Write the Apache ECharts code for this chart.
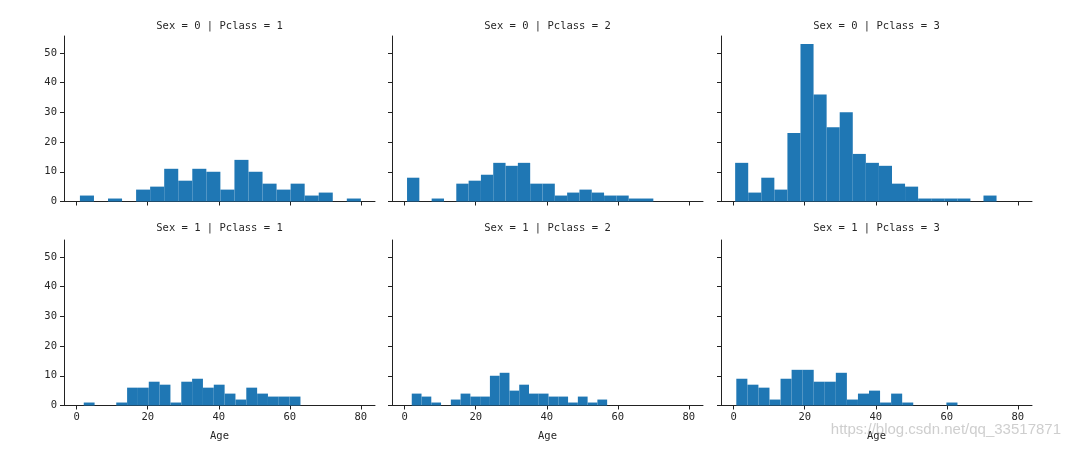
<!DOCTYPE html>
<html>
<head>
<meta charset="utf-8">
<script src="https://cdn.jsdelivr.net/npm/echarts@6/dist/echarts.min.js"></script>
<style>html,body{margin:0;padding:0;background:#fff;}#c{width:1069px;height:453px;}</style>
</head>
<body>
<div id="c"></div>
<script>
// Panel titles (row-major: Sex 0 row, Sex 1 row)
const panelTitles = [
  'Sex = 0 | Pclass = 1', 'Sex = 0 | Pclass = 2', 'Sex = 0 | Pclass = 3',
  'Sex = 1 | Pclass = 1', 'Sex = 1 | Pclass = 2', 'Sex = 1 | Pclass = 3'
];
// Age range (min, max) of each facet; 20 equal-width bins span it
const ageRanges = [
  [0.92, 80], [0.67, 70], [0.42, 74],
  [2, 63], [2, 57], [0.75, 63]
];
// Histogram counts per facet (20 bins)
const countsS0P1 = [2,0,1,0,4,5,11,7,11,10,4,14,10,6,4,6,2,3,0,1];
const countsS0P2 = [8,0,1,0,6,7,9,13,12,13,6,6,2,3,4,3,2,2,1,1];
const countsS0P3 = [13,3,8,4,23,53,36,25,30,16,13,12,6,5,1,1,1,1,0,2];
const countsS1P1 = [1,0,0,1,6,6,8,7,1,8,9,6,7,4,2,6,4,3,3,3];
const countsS1P2 = [4,3,1,0,2,4,3,3,10,11,5,7,4,4,3,3,1,3,1,2];
const countsS1P3 = [9,7,6,2,9,12,12,8,8,11,2,4,5,1,4,1,0,0,0,1];
const allCounts = [countsS0P1, countsS0P2, countsS0P3, countsS1P1, countsS1P2, countsS1P3];
const xTicks = [0, 20, 40, 60, 80];
const yTicks = [0, 10, 20, 30, 40, 50];
const xLabel = 'Age';

const chart = echarts.init(document.getElementById('c'), null, {renderer: 'canvas'});
const colLeft = [64, 392, 721];
const rowTop = [36, 240];
const gw = 311, gh = 165.5;
const txt = '#262626';
const mono = '"DejaVu Sans Mono", monospace';

const grids = [], xAxes = [], yAxes = [], series = [], graphics = [];
for (let i = 0; i < 6; i++) {
  const r = Math.floor(i / 3), c = i % 3;
  grids.push({left: colLeft[c], top: rowTop[r], width: gw, height: gh, containLabel: false});
  xAxes.push({
    type: 'value', gridIndex: i, min: -3.56, max: 83.98,
    splitLine: {show: false},
    axisLine: {show: true, onZero: false, lineStyle: {color: '#222', width: 1}},
    axisTick: {show: true, inside: false, length: 4, lineStyle: {color: '#222'}, customValues: xTicks},
    axisLabel: {show: r === 1, color: txt, fontFamily: mono, fontSize: 10.5, margin: 6, customValues: xTicks},
    name: r === 1 ? xLabel : '', nameLocation: 'middle', nameGap: 25,
    nameTextStyle: {color: txt, fontFamily: mono, fontSize: 10.5}
  });
  yAxes.push({
    type: 'value', gridIndex: i, min: 0, max: 55.65,
    splitLine: {show: false},
    axisLine: {show: true, onZero: false, lineStyle: {color: '#222', width: 1}},
    axisTick: {show: true, inside: false, length: 4, lineStyle: {color: '#222'}, customValues: yTicks},
    axisLabel: {show: c === 0, color: txt, fontFamily: mono, fontSize: 10.5, margin: 7, customValues: yTicks}
  });
  const [lo, hi] = ageRanges[i];
  const w = (hi - lo) / allCounts[i].length;
  const data = allCounts[i].map((v, k) => [lo + k * w, lo + (k + 1) * w, v]);
  series.push({
    type: 'custom', xAxisIndex: i, yAxisIndex: i, data: data,
    renderItem: function (params, api) {
      const p0 = api.coord([api.value(0), api.value(2)]);
      const p1 = api.coord([api.value(1), 0]);
      return {type: 'rect', shape: {x: p0[0], y: p0[1], width: p1[0] - p0[0], height: p1[1] - p0[1]},
              style: {fill: '#1f77b4'}};
    },
    encode: {x: [0, 1], y: 2}
  });
  graphics.push({
    type: 'text', x: colLeft[c] + gw / 2, y: r === 0 ? 26 : 228.5,
    style: {text: panelTitles[i], fill: txt, font: '10.5px "DejaVu Sans Mono", monospace',
            textAlign: 'center', textVerticalAlign: 'middle'}
  });
}
graphics.push({
  type: 'text', x: 1061, y: 430,
  style: {text: 'https://blog.csdn.net/qq_33517871', fill: 'rgba(190,190,190,0.75)',
          font: '15px "Liberation Sans", Arial, sans-serif', textAlign: 'right', textVerticalAlign: 'middle'}
});

chart.setOption({
  animation: false,
  backgroundColor: '#fff',
  grid: grids, xAxis: xAxes, yAxis: yAxes, series: series,
  graphic: graphics
});
</script>
</body>
</html>
